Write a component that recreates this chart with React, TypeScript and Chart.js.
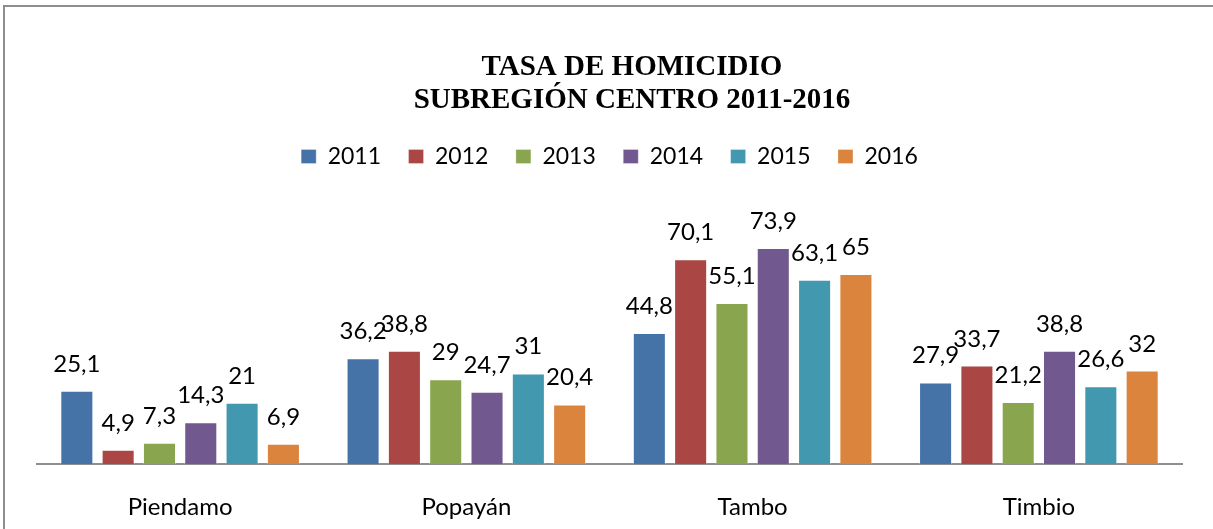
import React, { useEffect, useRef } from "react";
import { Chart, registerables } from "chart.js";

Chart.register(...registerables);

const categories = ["Piendamo", "Popayán", "Tambo", "Timbio"];
const seriesNames = ["2011", "2012", "2013", "2014", "2015", "2016"];
const values2011 = [25.1, 36.2, 44.8, 27.9];
const values2012 = [4.9, 38.8, 70.1, 33.7];
const values2013 = [7.3, 29, 55.1, 21.2];
const values2014 = [14.3, 24.7, 73.9, 38.8];
const values2015 = [21, 31, 63.1, 26.6];
const values2016 = [6.9, 20.4, 65, 32];
const seriesColors = ["#4572A7", "#AA4643", "#89A54E", "#71588F", "#4198AF", "#DB843D"];
const titleLines = ["TASA DE HOMICIDIO", "SUBREGIÓN CENTRO 2011-2016"];

const allValues = [values2011, values2012, values2013, values2014, values2015, values2016];

const fmt = (v: number) => String(v).replace(".", ",");

const dataLabels = {
  id: "dataLabels",
  afterDatasetsDraw(chart: any) {
    const ctx = chart.ctx;
    ctx.save();
    ctx.font = "24px Lato";
    ctx.fillStyle = "#000";
    ctx.textAlign = "center";
    ctx.textBaseline = "alphabetic";
    chart.data.datasets.forEach((ds: any, i: number) => {
      const meta = chart.getDatasetMeta(i);
      meta.data.forEach((bar: any, j: number) => {
        ctx.fillText(fmt(ds.data[j]), bar.x, bar.y - 19);
      });
    });
    ctx.restore();
  },
};

export default function App() {
  const ref = useRef<HTMLCanvasElement | null>(null);
  useEffect(() => {
    if (!ref.current) return;
    const chart = new Chart(ref.current, {
      type: "bar",
      data: {
        labels: categories,
        datasets: seriesNames.map((name, i) => ({
          label: name,
          data: allValues[i],
          backgroundColor: seriesColors[i],
          borderColor: "rgba(255,255,255,0.3)",
          borderWidth: 1,
          categoryPercentage: 0.866,
          barPercentage: 0.8,
        })),
      },
      options: {
        responsive: false,
        animation: false,
        layout: { padding: { left: 37, right: 0, top: 0, bottom: 0 } },
        plugins: {
          title: {
            display: true,
            text: titleLines,
            color: "#000",
            font: { family: "'Liberation Serif', 'Times New Roman', serif", size: 29, weight: "bold", lineHeight: 33 / 29 },
            padding: { top: 51.5, bottom: 0 },
          },
          legend: {
            display: true,
            fullSize: false,
            labels: {
              color: "#000",
              font: { family: "Lato", size: 23 },
              boxWidth: 15,
              boxHeight: 14,
              padding: 27.5,
            },
          },
          tooltip: { enabled: false },
        },
        scales: {
          x: {
            grid: { display: false, drawTicks: false, tickLength: 0 },
            border: { display: true, color: "#8e8e8e", width: 2 },
            ticks: { color: "#000", font: { family: "Lato", size: 24 }, padding: 29 },
            afterFit: (s: any) => {
              s.height = 65;
            },
          },
          y: {
            position: "right",
            min: 0,
            max: 97.9,
            ticks: { display: false },
            grid: { display: false, drawTicks: false },
            border: { display: false },
            afterFit: (s: any) => {
              s.width = 45;
            },
          },
        },
      },
      plugins: [dataLabels],
    });
    return () => chart.destroy();
  }, []);

  return (
    <div
      style={{
        position: "fixed",
        left: 0,
        top: 0,
        width: 1213,
        height: 529,
        overflow: "hidden",
        background: "#fff",
      }}
    >
      <div
        style={{
          position: "absolute",
          left: 3,
          top: 5,
          width: 2000,
          height: 1000,
          borderTop: "2px solid #8e8e8e",
          borderLeft: "2px solid #8e8e8e",
        }}
      />
      <canvas
        ref={ref}
        width={1227}
        height={529}
        style={{ position: "absolute", left: 0, top: 0, display: "block" }}
      />
    </div>
  );
}
